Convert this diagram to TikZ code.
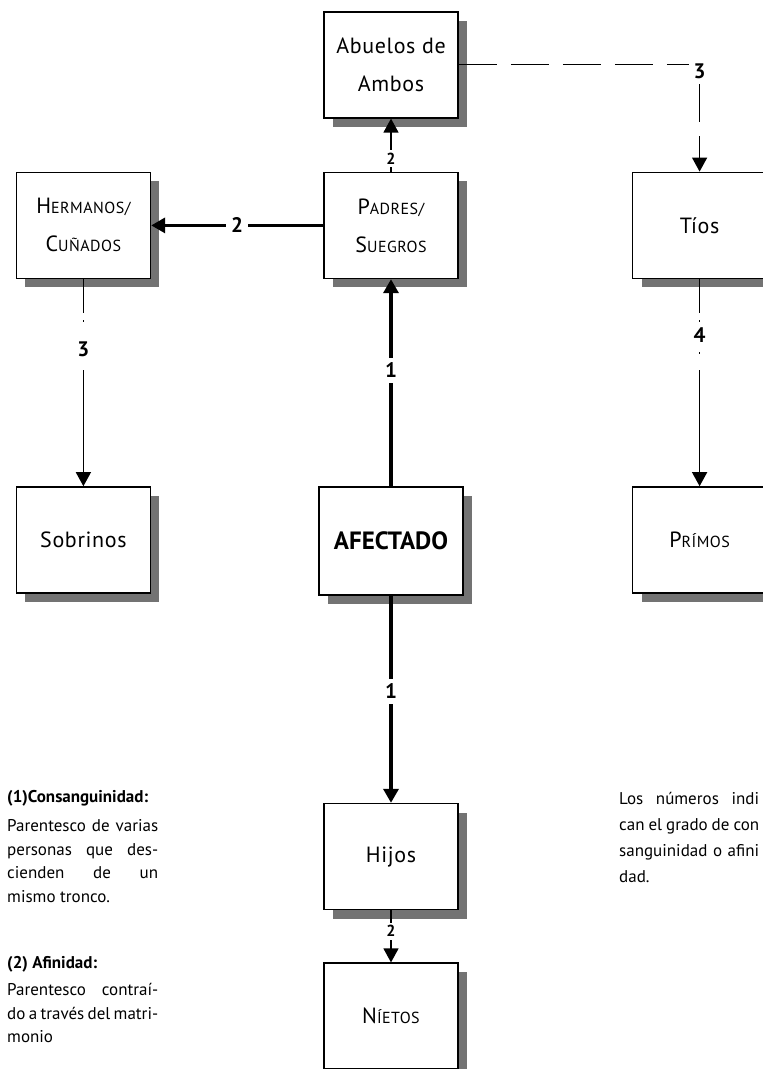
\documentclass[tikz,border=0pt]{standalone}
\usepackage{fontspec}
\setmainfont{PT Sans}
\usetikzlibrary{positioning,arrows.meta,shadows}

\newcommand{\pc}[1]{{\fontsize{16pt}{18pt}\selectfont #1}}

\begin{document}
\begin{tikzpicture}[
        x=1pt, y=1pt,
        node distance=207pt, % distancia vertical entre filas
        caja/.style={rectangle, draw, line width=1.6pt, fill=white, align=center,
            minimum width=134pt, minimum height=106pt,
            font=\fontsize{22pt}{38pt}\selectfont\addfontfeatures{LetterSpace=3},
            drop shadow={shadow xshift=9pt, shadow yshift=-9pt, fill=black!55, opacity=1}}, % estilo de cajas
        numero/.style={fill=white, inner sep=5pt, font=\bfseries\fontsize{21pt}{23pt}\selectfont},
        numchico/.style={fill=white, inner sep=3pt, font=\bfseries\fontsize{16pt}{18pt}\selectfont},
        gruesa/.style={line width=3.4pt, -{Triangle[width=15pt, length=14pt]}},
        fina/.style={line width=1.3pt, -{Triangle[width=15pt, length=14pt]}},
        discont/.style={fina, dash pattern=on 38pt off 14pt},
        discpunto/.style={fina, dash pattern=on 34pt off 7pt on 2pt off 30pt on 2pt off 16pt on 150pt},
        leyenda/.style={inner sep=0pt, anchor=north west, font=\fontsize{17pt}{23.5pt}\selectfont},
    ]
    \useasboundingbox[fill=white] (0,0) rectangle (763,-1069);

    \node[caja, minimum width=144pt, minimum height=108pt, font=\bfseries\fontsize{25pt}{28pt}\selectfont] (afectado) at (391,-541) {AFECTADO};
    \node[caja] (padres) [above=of afectado] {P\pc{ADRES/}\\S\pc{UEGROS}};
    \node[caja] (abuelos) [above=53pt of padres] {Abuelos de\\Ambos};
    \node[caja] (hermanos) [left=172pt of padres] {H\pc{ERMANOS/}\\C\pc{UÑADOS}};
    \node[caja] (tios) [right=173pt of padres] {Tíos};
    \node[caja] (sobrinos) [below=of hermanos] {Sobrinos};
    \node[caja] (primos) [below=of tios] {P\pc{RÍMOS}};
    \node[caja] (hijos) [below=of afectado] {Hijos};
    \node[caja] (nietos) [below=52pt of hijos] {N\pc{ÍETOS}};

    \draw[gruesa] (afectado) -- node[numero, pos=0.56] {1} (padres);
    \draw[gruesa] (afectado) -- node[numero, pos=0.46] {1} (hijos);
    \draw[gruesa] (padres) -- node[numero] {2} (hermanos);
    \draw[fina] (padres) -- node[numchico, pos=0.25] {2} (abuelos);
    \draw[fina] (hijos) -- node[numchico, pos=0.4] {2} (nietos);
    \draw[discont] (abuelos.east) -| node[numero, pos=0.5, yshift=-6pt] {3} (tios.north);
    \draw[discpunto] (tios) -- node[numero, pos=0.27] {4} (primos);
    \draw[discpunto] (hermanos) -- node[numero, pos=0.34] {3} (sobrinos);

    \node[leyenda, text width=151pt, align=justify] (consang) at (7,-790)
        {{\bfseries (1)Consanguinidad:}\\[6pt]Parentesco de varias\linebreak personas que des-\linebreak cienden de un\linebreak mismo tronco.};
    \node[leyenda, text width=151pt, align=justify] (afin) at (7,-956)
        {{\bfseries (2) Afinidad:}\\[4pt]Parentesco contraí-\linebreak do a través del matri-\linebreak monio};
    \node[leyenda, text width=140pt, align=justify, font=\fontsize{17pt}{26pt}\selectfont] (nota) at (619,-792)
        {Los números indi\linebreak can el grado de con\linebreak sanguinidad o afini\linebreak dad.};
\end{tikzpicture}
\end{document}
